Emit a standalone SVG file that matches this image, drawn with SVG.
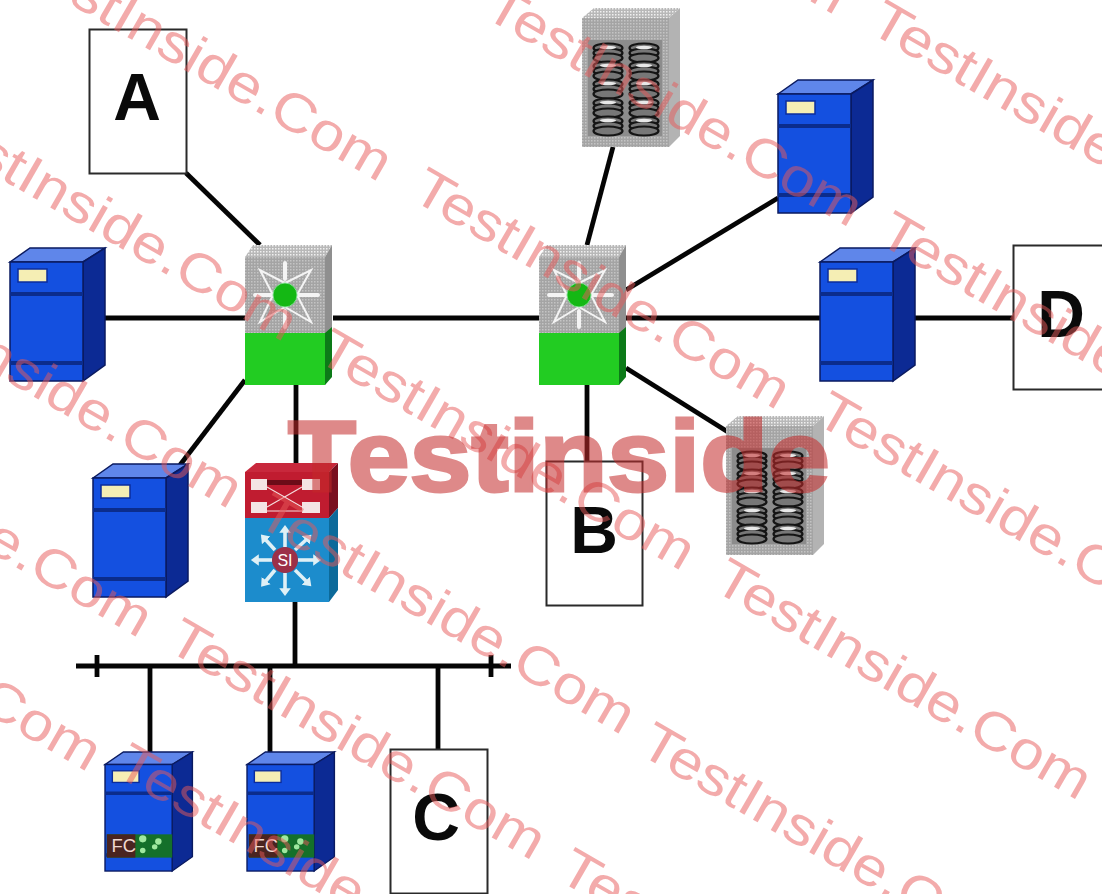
<svg xmlns="http://www.w3.org/2000/svg" xmlns:xlink="http://www.w3.org/1999/xlink" width="1102" height="894" viewBox="0 0 1102 894">
<style>
.wire{stroke:#050505;stroke-width:4.8;fill:none}
.box{fill:#fff;stroke:#2a2a2a;stroke-width:2}
.letter{font-family:"Liberation Sans",Arial,sans-serif;font-weight:bold;font-size:66px;fill:#0a0a0a;text-anchor:middle}
.wm{font-family:"Liberation Sans",Arial,sans-serif;font-size:54px;fill:#e85a5a;opacity:.5}
.big{font-family:"Liberation Sans",Arial,sans-serif;font-weight:bold;font-size:100px;fill:#c42a2a;stroke:#c42a2a;stroke-width:3;opacity:.55}
.fc{font-family:"Liberation Sans",Arial,sans-serif;font-size:20px;fill:#f0d8d0}
.si{font-family:"Liberation Sans",Arial,sans-serif;font-size:16px;fill:#fff;text-anchor:middle}
.ray{stroke:#f4f4f4;stroke-width:4;fill:none;stroke-linecap:round}
.kite{stroke:#f4f4f4;stroke-width:2;fill:none}
.arrow{stroke:#dff0f6;stroke-width:3.6;fill:none;marker-end:url(#head)}
.disc{fill:#777;stroke:#141414;stroke-width:2.2}
</style>
<defs>
<marker id="head" markerWidth="4" markerHeight="4" refX="0.5" refY="2" orient="auto"><path d="M0 0.4 L2.2 2 L0 3.6Z" fill="#dff0f6"/></marker>
<pattern id="dot" width="3" height="3" patternUnits="userSpaceOnUse"><rect width="3" height="3" fill="#a4a4a4"/><rect width="1.5" height="1.5" fill="#c4c4c4"/></pattern>
<pattern id="dotTop" width="3" height="3" patternUnits="userSpaceOnUse"><rect width="3" height="3" fill="#b8b8b8"/><rect width="1.5" height="1.5" fill="#f0f0f0"/></pattern>
<g id="server">
<path d="M0 14 L20 0 H95 L73 14Z" fill="#5f86ea" stroke="#0a1a60" stroke-width="1.5"/>
<path d="M73 14 L95 0 V117 L73 133Z" fill="#0c2a94" stroke="#0a1a60" stroke-width="1.5"/>
<rect x="0" y="14" width="73" height="119" fill="#1450e0" stroke="#0a1a60" stroke-width="1.5"/>
<path d="M0 46 H73 M0 115 H73" stroke="#0b2c8c" stroke-width="4" fill="none"/>
<rect x="8" y="21" width="29" height="13" fill="#f5eeb4" stroke="#0b2c9c" stroke-width="1.5"/>
</g>
<g id="fcserver">
<use xlink:href="#server" href="#server"/>
<rect x="2" y="92" width="71" height="26" fill="#14702a"/>
<rect x="2" y="92" width="31" height="26" fill="#4a2420"/>
<text class="fc" x="7" y="112">FC</text>
<circle cx="41" cy="97" r="4" fill="#9fe89f"/><circle cx="58" cy="100" r="3.500" fill="#9fe89f"/><circle cx="41" cy="110" r="3" fill="#9fe89f"/><circle cx="54" cy="106" r="3" fill="#9fe89f"/>
</g>
<g id="switch">
<path d="M0 12 L8 0 H87 L80 12Z" fill="url(#dotTop)"/>
<path d="M80 12 L87 0 V128 L80 140Z" fill="#8f8f8f"/>
<path d="M80 88 L87 82 V132 L80 140Z" fill="#0c7a18"/>
<rect x="0" y="12" width="80" height="76" fill="url(#dot)"/>
<rect x="0" y="88" width="80" height="52" fill="#22cc22"/>
<path class="ray" d="M40 18 V34 M40 66 V82 M10 50 H26 M54 50 H73"/>
<path class="kite" d="M28 50 L15 25 L40 38 M52 50 L66 25 L40 38 M28 50 L15 77 L40 62 M52 50 L66 77 L40 62"/>
<circle cx="40" cy="50" r="12" fill="#14b814" stroke="#7fdc8f"/>
</g>
<g id="stack">
<ellipse class="disc" cx="0" cy="0" rx="14.500" ry="4.500"/>
<ellipse class="disc" cx="0" cy="5" rx="14.500" ry="4.500"/>
<ellipse class="disc" cx="0" cy="10" rx="14.500" ry="4.500"/>
<ellipse cx="0" cy="-0.5" rx="8" ry="1.8" fill="#e8e8e8"/>
</g>
<g id="storage">
<path d="M0 10 L12 0 H98 L87 10Z" fill="url(#dotTop)"/>
<path d="M87 10 L98 0 V128 L87 139Z" fill="#b3b3b3"/>
<rect x="0" y="10" width="87" height="129" fill="url(#dot)"/>
<rect x="6" y="32" width="74" height="96" fill="#8c8c8c"/>
<use xlink:href="#stack" href="#stack" x="26" y="40"/><use xlink:href="#stack" href="#stack" x="26" y="58"/><use xlink:href="#stack" href="#stack" x="26" y="76"/><use xlink:href="#stack" href="#stack" x="26" y="95"/><use xlink:href="#stack" href="#stack" x="26" y="113"/>
<use xlink:href="#stack" href="#stack" x="62" y="40"/><use xlink:href="#stack" href="#stack" x="62" y="58"/><use xlink:href="#stack" href="#stack" x="62" y="76"/><use xlink:href="#stack" href="#stack" x="62" y="95"/><use xlink:href="#stack" href="#stack" x="62" y="113"/>
</g>
</defs>
<rect width="1102" height="894" fill="#fff"/>
<g id="connectors">
<path class="wire" d="M186 173 L260 245"/>
<path class="wire" d="M105 318 H245"/>
<path class="wire" d="M333 318 H540"/>
<path class="wire" d="M245 380 L180 465"/>
<path class="wire" d="M296 385 V465"/>
<path class="wire" d="M295 600 V666"/>
<path class="wire" d="M76 666 H511"/>
<path class="wire" d="M97 655 V677"/>
<path class="wire" d="M491 655 V677"/>
<path class="wire" d="M150 666 V752"/>
<path class="wire" d="M270 666 V755"/>
<path class="wire" d="M438 666 V749"/>
<path class="wire" d="M587 245 L613 147"/>
<path class="wire" d="M626 290 L778 198"/>
<path class="wire" d="M626 318 H820"/>
<path class="wire" d="M915 318 H1013"/>
<path class="wire" d="M587 385 V461"/>
<path class="wire" d="M626 368 L728 432"/>
</g>
<g id="node-a"><rect class="box" x="89.500" y="29.500" width="97" height="144"/><text class="letter" x="137" y="120">A</text></g>
<g id="node-b"><rect class="box" x="546.500" y="461.500" width="96" height="144"/><text class="letter" x="594" y="553">B</text></g>
<g id="node-c"><rect class="box" x="390.500" y="749.500" width="97" height="144"/><text class="letter" x="436" y="840">C</text></g>
<g id="node-d"><rect class="box" x="1013.500" y="245.500" width="100" height="144"/><text class="letter" x="1061" y="337">D</text></g>
<use id="server-left" xlink:href="#server" href="#server" x="10" y="248"/>
<use id="server-lower" xlink:href="#server" href="#server" x="93" y="464"/>
<use id="server-top" xlink:href="#server" href="#server" x="778" y="80"/>
<use id="server-mid" xlink:href="#server" href="#server" x="820" y="248"/>
<g id="fc-server-1" transform="translate(105 752) scale(.92 .895)"><use xlink:href="#fcserver" href="#fcserver"/></g>
<g id="fc-server-2" transform="translate(247 752) scale(.92 .895)"><use xlink:href="#fcserver" href="#fcserver"/></g>
<use id="switch-1" xlink:href="#switch" href="#switch" x="245" y="245"/>
<use id="switch-2" xlink:href="#switch" href="#switch" x="539" y="245"/>
<use id="storage-1" xlink:href="#storage" href="#storage" x="582" y="8"/>
<use id="storage-2" xlink:href="#storage" href="#storage" x="726" y="416"/>
<g id="multilayer-switch">
<path d="M245 472 L256 463 H338 L329 472Z" fill="#c8283c"/>
<path d="M329 472 L338 463 V508 L329 518Z" fill="#7a1020"/>
<path d="M329 518 L338 508 V590 L329 602Z" fill="#0c6a9a"/>
<rect x="245" y="472" width="84" height="46" fill="#c01c30"/>
<rect x="245" y="518" width="84" height="84" fill="#1c8ccc"/>
<rect x="267" y="480" width="35" height="5" fill="#6c0c18"/>
<path d="M267 487 L302 507 M267 507 L302 487 M267 511 H302" stroke="#f4dcdc" stroke-width="1.2" fill="none"/>
<rect x="251" y="479" width="16" height="11" fill="#f4e4e4"/><rect x="302" y="479" width="18" height="11" fill="#f4e4e4"/>
<rect x="251" y="502" width="16" height="11" fill="#f4e4e4"/><rect x="302" y="502" width="18" height="11" fill="#f4e4e4"/>
<path class="arrow" d="M285 547 V531"/>
<path class="arrow" d="M285 573 V590"/>
<path class="arrow" d="M272 560 H257"/>
<path class="arrow" d="M298 560 H315"/>
<path class="arrow" d="M275 550 L265 539"/>
<path class="arrow" d="M295 550 L307 539"/>
<path class="arrow" d="M275 570 L265 582"/>
<path class="arrow" d="M295 570 L307 582"/>
<circle cx="285" cy="560" r="13" fill="#9c3048"/>
<text class="si" x="285" y="566">SI</text>
</g>
<g id="watermark">
<g transform="translate(9 8)">
<text class="wm" textLength="425" lengthAdjust="spacingAndGlyphs" transform="translate(2 -38) rotate(30)">TestInside.Com</text>
<text class="wm" textLength="425" lengthAdjust="spacingAndGlyphs" transform="translate(400 190) rotate(30)">TestInside.Com</text>
<text class="wm" textLength="425" lengthAdjust="spacingAndGlyphs" transform="translate(803.500 413.500) rotate(30)">TestInside.Com</text>
<text class="wm" textLength="425" lengthAdjust="spacingAndGlyphs" transform="translate(472.500 7.500) rotate(30)">TestInside.Com</text>
<text class="wm" textLength="425" lengthAdjust="spacingAndGlyphs" transform="translate(866.500 233.500) rotate(30)">TestInside.Com</text>
<text class="wm" textLength="425" lengthAdjust="spacingAndGlyphs" transform="translate(458 -205) rotate(30)">TestInside.Com</text>
<text class="wm" textLength="425" lengthAdjust="spacingAndGlyphs" transform="translate(857.500 22.500) rotate(30)">TestInside.Com</text>
<text class="wm" textLength="425" lengthAdjust="spacingAndGlyphs" transform="translate(-93 122) rotate(30)">TestInside.Com</text>
<text class="wm" textLength="425" lengthAdjust="spacingAndGlyphs" transform="translate(305 351) rotate(30)">TestInside.Com</text>
<text class="wm" textLength="425" lengthAdjust="spacingAndGlyphs" transform="translate(701.500 580.500) rotate(30)">TestInside.Com</text>
<text class="wm" textLength="425" lengthAdjust="spacingAndGlyphs" transform="translate(-238 418) rotate(30)">TestInside.Com</text>
<text class="wm" textLength="425" lengthAdjust="spacingAndGlyphs" transform="translate(155.500 640.500) rotate(30)">TestInside.Com</text>
<text class="wm" textLength="425" lengthAdjust="spacingAndGlyphs" transform="translate(546.500 870.500) rotate(30)">TestInside.Com</text>
<text class="wm" textLength="425" lengthAdjust="spacingAndGlyphs" transform="translate(-148 289) rotate(30)">TestInside.Com</text>
<text class="wm" textLength="425" lengthAdjust="spacingAndGlyphs" transform="translate(245 515) rotate(30)">TestInside.Com</text>
<text class="wm" textLength="425" lengthAdjust="spacingAndGlyphs" transform="translate(627.500 744.500) rotate(30)">TestInside.Com</text>
<text class="wm" textLength="425" lengthAdjust="spacingAndGlyphs" transform="translate(-289 552) rotate(30)">TestInside.Com</text>
<text class="wm" textLength="425" lengthAdjust="spacingAndGlyphs" transform="translate(103.500 765.500) rotate(30)">TestInside.Com</text>
</g>
<text class="big" x="288" y="491" textLength="542" lengthAdjust="spacingAndGlyphs">Testinside</text>
</g>
</svg>
